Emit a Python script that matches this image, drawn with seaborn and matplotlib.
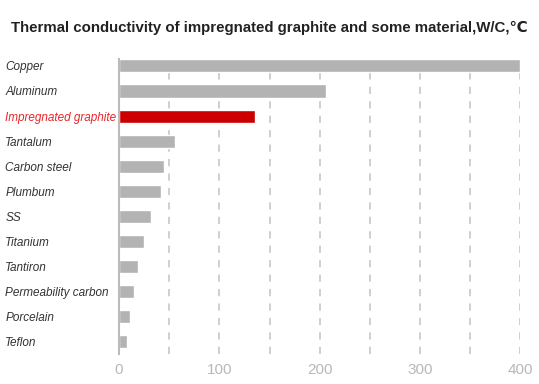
import numpy as np
import pandas as pd
import matplotlib.pyplot as plt
import seaborn as sns

materials = ["Copper", "Aluminum", "Impregnated graphite", "Tantalum", "Carbon steel",
             "Plumbum", "SS", "Titanium", "Tantiron", "Permeability carbon",
             "Porcelain", "Teflon"]
conductivity = [400, 206, 136, 56, 45, 42, 32, 25, 19, 15, 11, 8]
highlight = "Impregnated graphite"
xticks = [0, 100, 200, 300, 400]

df = pd.DataFrame({"material": materials, "k": conductivity})
palette = {m: ("#cc0000" if m == highlight else "#b3b3b3") for m in materials}

sns.set_style("white")
plt.rcParams["font.family"] = ["Liberation Sans", "DejaVu Sans"]

fig = plt.figure(figsize=(5.39, 3.84), dpi=100)
ax = fig.add_axes([0.221, 0.077, 0.744, 0.769])

# dashed grid every 50
for v in range(50, 401, 50):
    ax.axvline(v, color="#cccccc", lw=1.3, ls=(0, (4, 4)), zorder=0)

sns.barplot(data=df, x="k", y="material", hue="material", palette=palette,
            order=materials, width=0.52, saturation=1, legend=False, ax=ax, zorder=2)

ax.set_xlim(0, 400)
ax.set_ylim(11.5, -0.27)
ax.set_xticks(xticks)
ax.set_xlabel("")
ax.set_ylabel("")
for s in ["top", "right", "bottom"]:
    ax.spines[s].set_visible(False)
ax.spines["left"].set_color("#bbbbbb")
ax.spines["left"].set_linewidth(1.5)
ax.tick_params(axis="x", length=0, labelsize=11, colors="#b8b8b8", pad=6)
ax.tick_params(axis="y", length=0, labelsize=8.5, pad=82)
for lbl in ax.get_yticklabels():
    lbl.set_ha("left")
    lbl.set_fontstyle("italic")
    lbl.set_color("#e8262a" if lbl.get_text() == highlight else "#333333")

fig.suptitle("Thermal conductivity of impregnated graphite and some material,W/C,\u2103",
             x=0.5, y=0.945, fontsize=10.8, fontweight="bold", color="#222222")

fig.savefig("out.png", dpi=100)
